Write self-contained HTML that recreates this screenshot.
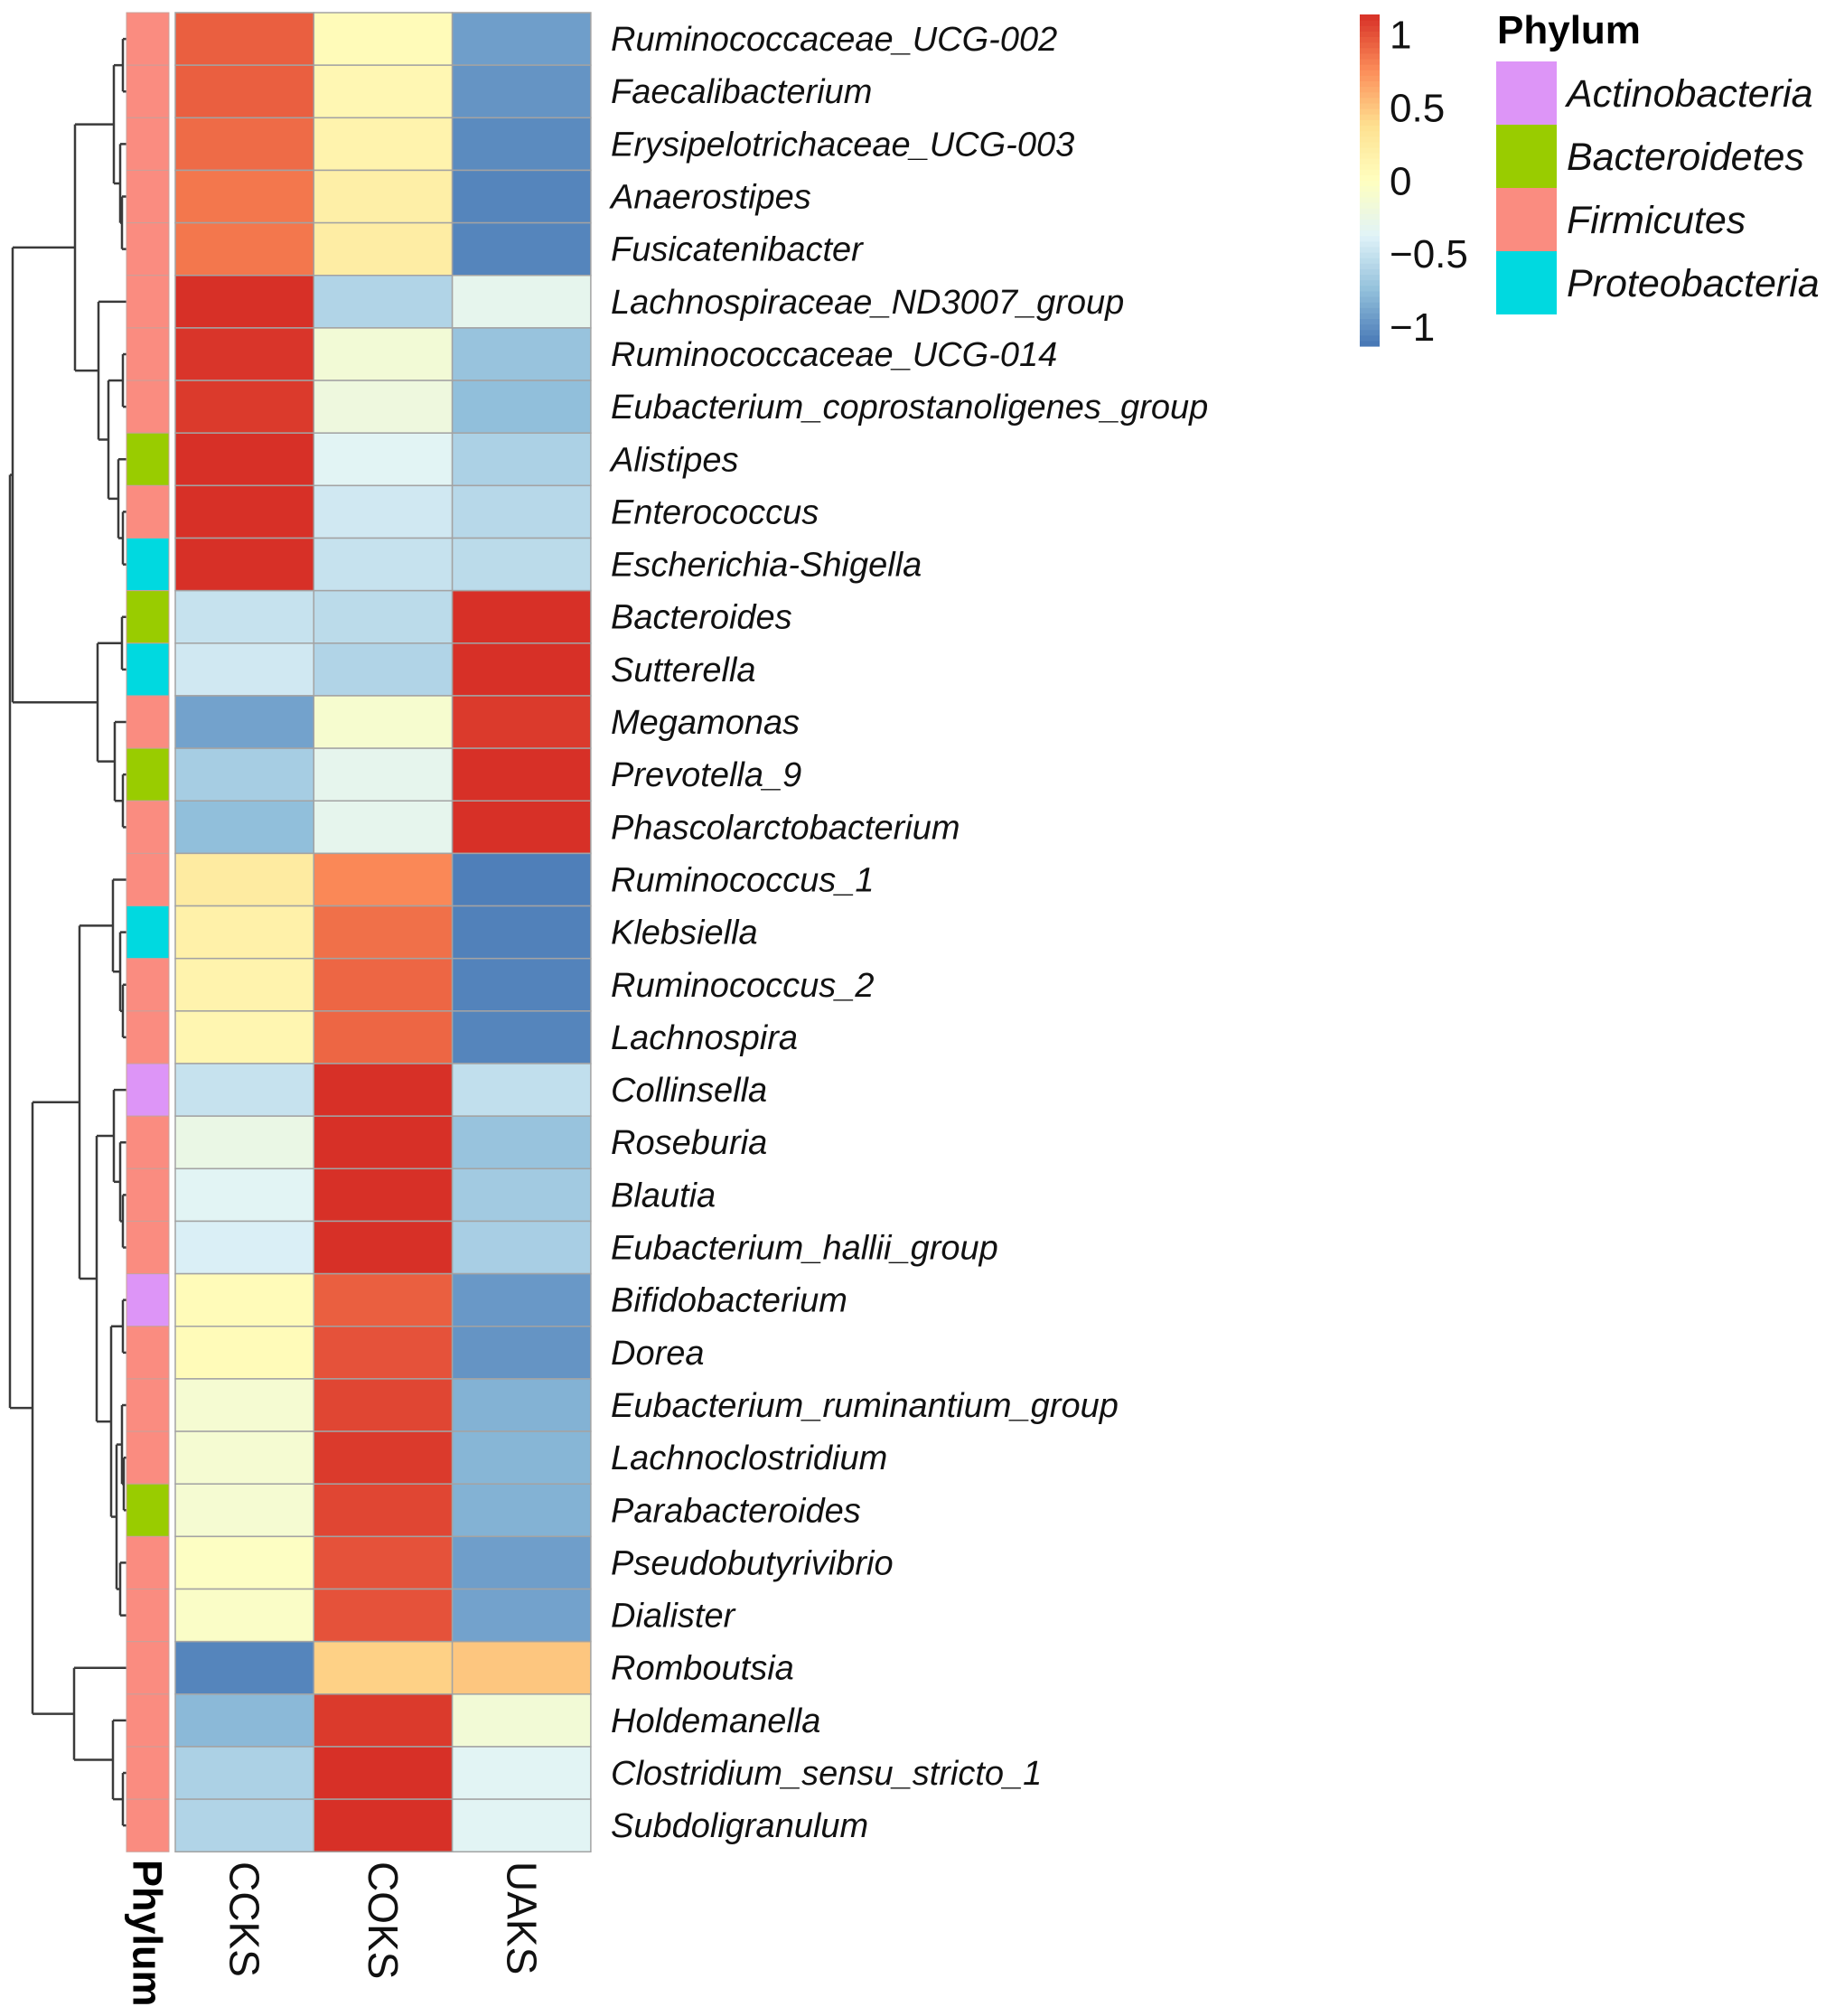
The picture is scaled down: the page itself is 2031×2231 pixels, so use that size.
<!DOCTYPE html>
<html><head><meta charset="utf-8"><style>
html,body{margin:0;padding:0;background:#fff;}
svg{display:block;}
</style></head><body>
<svg id="chart" width="2031" height="2231" viewBox="0 0 2031 2231" xmlns="http://www.w3.org/2000/svg" font-family="Liberation Sans, Arial, sans-serif">
<g id="dendro" stroke="#3a3a3a" stroke-width="2.5" fill="none"></g>
<g id="phylum"></g>
<g id="cells"></g>
<g id="rowlabels"></g>
<g id="collabels"></g>
<g id="legend"></g>
<g id="plegend"></g>
</svg>
<script>
const genera = ["Ruminococcaceae_UCG-002","Faecalibacterium","Erysipelotrichaceae_UCG-003","Anaerostipes","Fusicatenibacter","Lachnospiraceae_ND3007_group","Ruminococcaceae_UCG-014","Eubacterium_coprostanoligenes_group","Alistipes","Enterococcus","Escherichia-Shigella","Bacteroides","Sutterella","Megamonas","Prevotella_9","Phascolarctobacterium","Ruminococcus_1","Klebsiella","Ruminococcus_2","Lachnospira","Collinsella","Roseburia","Blautia","Eubacterium_hallii_group","Bifidobacterium","Dorea","Eubacterium_ruminantium_group","Lachnoclostridium","Parabacteroides","Pseudobutyrivibrio","Dialister","Romboutsia","Holdemanella","Clostridium_sensu_stricto_1","Subdoligranulum"];
const groups = ["CCKS","COKS","UAKS"];
const ccks = [0.95,0.95,0.9,0.85,0.85,1.15,1.12,1.1,1.15,1.15,1.15,-0.5,-0.45,-0.9,-0.65,-0.75,0.25,0.18,0.15,0.12,-0.5,-0.25,-0.35,-0.4,0.05,0.05,-0.12,-0.12,-0.12,-0.02,-0.05,-1.05,-0.78,-0.62,-0.6];
const coks = [0.05,0.1,0.15,0.2,0.22,-0.6,-0.15,-0.2,-0.35,-0.45,-0.5,-0.55,-0.6,-0.1,-0.3,-0.3,0.78,0.88,0.92,0.92,1.15,1.15,1.15,1.15,0.95,1.0,1.05,1.1,1.05,1.0,1.0,0.45,1.1,1.15,1.15];
const uaks = [-0.92,-0.97,-1.02,-1.05,-1.05,-0.3,-0.72,-0.75,-0.62,-0.57,-0.55,1.15,1.15,1.1,1.15,1.15,-1.08,-1.07,-1.06,-1.05,-0.52,-0.72,-0.67,-0.64,-0.95,-0.97,-0.82,-0.8,-0.82,-0.92,-0.9,0.5,-0.15,-0.35,-0.35];
const phyla = ["F","F","F","F","F","F","F","F","B","F","P","B","P","F","B","F","F","P","F","F","A","F","F","F","A","F","F","F","B","F","F","F","F","F","F"];
const phylumNames = ["Actinobacteria","Bacteroidetes","Firmicutes","Proteobacteria"];
const phylumKeys = ["A","B","F","P"];
const legendTicks = [1,0.5,0,-0.5,-1];
const legendTickLabels = ["1","0.5","0","\u22120.5","\u22121"];

const NS="http://www.w3.org/2000/svg";
const TOP=14, RH=58.15, HX=194, CW=153.3, PX=140, PW=47;
const VMIN=-1.13, VMAX=1.14;
const pal=["#4575B4","#91BFDB","#E0F3F8","#FFFFBF","#FEE090","#FC8D59","#D73027"];
const phCol={A:"#DD95F7",B:"#99CC00",F:"#FA8C80",P:"#00D9E0"};
function rowY(i){return TOP+RH*i;}
function rowC(i){return TOP+RH*(i+0.5);}
function colX(j){return HX+CW*j;}
function hex(h){return [1,3,5].map(k=>parseInt(h.substr(k,2),16));}
function color(v){let t=(v-VMIN)/(VMAX-VMIN);t=Math.max(0,Math.min(1,t));const p=t*(pal.length-1);const i=Math.min(pal.length-2,Math.floor(p));const f=p-i;const a=hex(pal[i]),b=hex(pal[i+1]);return "rgb("+a.map((x,k)=>Math.round(x+(b[k]-x)*f)).join(",")+")";}
function mk(tag,attrs,parent){const e=document.createElementNS(NS,tag);for(const k in attrs)e.setAttribute(k,attrs[k]);parent.appendChild(e);return e;}

const cells=document.getElementById("cells");
const series=[ccks,coks,uaks];
series.forEach((arr,j)=>{arr.forEach((v,i)=>{
  const r=mk("rect",{x:colX(j),y:rowY(i),width:CW,height:RH,fill:color(v),stroke:"#a3a3a3","stroke-width":1.5},cells);
  
  
});});
const ph=document.getElementById("phylum");
phyla.forEach((p,i)=>{
  const r=mk("rect",{x:PX,y:rowY(i),width:PW,height:RH,fill:phCol[p],stroke:"#c9a09a","stroke-width":1},ph);
  
  
});
const rl=document.getElementById("rowlabels");
genera.forEach((g,i)=>{
  const t=mk("text",{x:676,y:rowC(i)+13,"font-size":38,"font-style":"italic",fill:"#111"},rl);
  t.textContent=g;
  
  
});
const cl=document.getElementById("collabels");
groups.forEach((g,j)=>{
  const cx=colX(j)+CW/2-16;
  const t=mk("text",{x:0,y:0,"font-size":46,fill:"#111",transform:"translate("+cx+",2060) rotate(90)"},cl);
  t.textContent=g;
  
  
});
{const t=mk("text",{x:0,y:0,"font-size":45,"font-weight":"bold",fill:"#000",transform:"translate("+(PX+PW/2-16)+",2058) rotate(90)"},cl);
t.textContent="Phylum";

}

const dg=document.getElementById("dendro");
const LEAF=187;
function seg(x1,y1,x2,y2){const l=mk("line",{x1:x1,y1:y1,x2:x2,y2:y2},dg);}
function build(n){
  if(typeof n==="number") return {x:LEAF,y:rowC(n)};
  const a=build(n.a),b=build(n.b);
  seg(n.x,a.y,n.x,b.y);seg(n.x,a.y,a.x,a.y);seg(n.x,b.y,b.x,b.y);
  return {x:n.x,y:(a.y+b.y)/2};
}
const tree={x:11,
 a:{x:14,
    a:{x:83,a:{x:126,a:{x:136,a:0,b:1},b:{x:133,a:2,b:{x:135,a:3,b:4}}},
           b:{x:109,a:5,b:{x:120,a:{x:136,a:6,b:7},b:{x:131,a:8,b:{x:136,a:9,b:10}}}}},
    b:{x:108,a:{x:135,a:11,b:12},b:{x:127,a:13,b:{x:136,a:14,b:15}}}},
 b:{x:36,
    a:{x:88,a:{x:125,a:16,b:{x:133,a:17,b:{x:136,a:18,b:19}}},
           b:{x:107,a:{x:126,a:20,b:{x:133,a:21,b:{x:136,a:22,b:23}}},
                    b:{x:123,a:{x:136,a:24,b:25},b:{x:129,a:{x:135,a:26,b:{x:137,a:27,b:28}},b:{x:133,a:29,b:30}}}}},
    b:{x:82,a:31,b:{x:125,a:32,b:{x:136,a:33,b:34}}}}};
build(tree);

const lg=document.getElementById("legend");
const LY0=16, LY1=383, LX=1505, LW=22;
function ly(v){return LY1-(v-VMIN)/(VMAX-VMIN)*(LY1-LY0);}
for(let k=0;k<60;k++){
  const v0=VMIN+(VMAX-VMIN)*k/60, v1=VMIN+(VMAX-VMIN)*(k+1)/60;
  const r=mk("rect",{x:LX,y:ly(v1),width:LW,height:ly(v0)-ly(v1)+0.6,fill:color((v0+v1)/2)},lg);
  
  
}
legendTicks.forEach((v,k)=>{
  const t=mk("text",{x:1538,y:ly(v)+15,"font-size":44,fill:"#111"},lg);
  t.textContent=legendTickLabels[k];
  
  
});
const pl=document.getElementById("plegend");
{const t=mk("text",{x:1657,y:48,"font-size":44,"font-weight":"bold",fill:"#000"},pl);t.textContent="Phylum";
}
phylumKeys.forEach((k,i)=>{
  const y=68+70*i;
  const r=mk("rect",{x:1656,y:y,width:67,height:70,fill:phCol[k]},pl);
  
  
  const t=mk("text",{x:1734,y:y+50,"font-size":43,"font-style":"italic",fill:"#111"},pl);
  t.textContent=phylumNames[i];
  
  
});
</script>
</body></html>
